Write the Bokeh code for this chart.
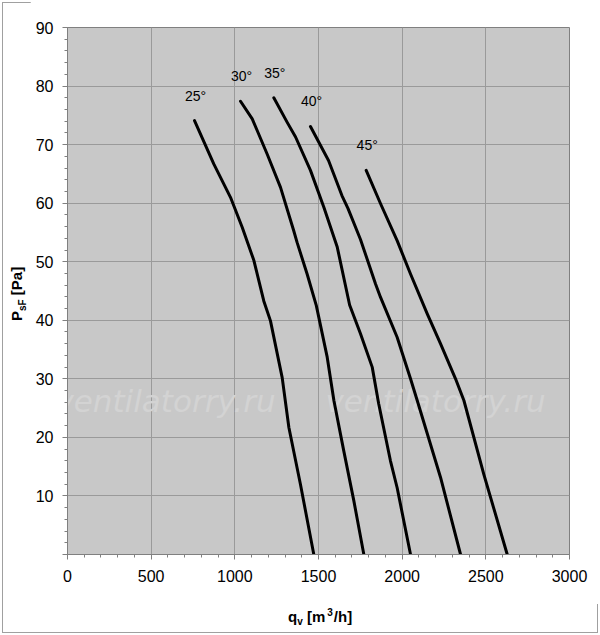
from bokeh.plotting import figure
from bokeh.models import Label, FixedTicker, Range1d, ColumnDataSource, Div
from bokeh.layouts import row, column
from bokeh.core.properties import value
from bokeh.embed import file_html
from bokeh.resources import INLINE

# ---- data ----
angles = ["25°", "30°", "35°", "40°", "45°"]
q25 = [759, 874, 974, 1044, 1114, 1173, 1213, 1283, 1323, 1392, 1472]
p25 = [74.1, 66.7, 61.0, 55.9, 50.2, 43.3, 39.9, 30.2, 21.7, 12.0, 0.0]
q30 = [1034, 1104, 1193, 1273, 1352, 1372, 1432, 1487, 1552, 1592, 1651, 1711, 1771]
p30 = [77.4, 74.4, 68.4, 62.7, 55.3, 53.3, 47.9, 42.5, 33.7, 26.3, 17.7, 9.2, 0.0]
q35 = [1233, 1313, 1363, 1452, 1532, 1612, 1686, 1751, 1821, 1860, 1930, 1970, 2050]
p35 = [78.0, 73.8, 71.3, 65.6, 59.3, 52.5, 42.6, 37.7, 32.0, 25.7, 16.0, 11.4, 0.0]
q40 = [1452, 1560, 1640, 1676, 1751, 1841, 1871, 1970, 2050, 2090, 2229, 2349]
p40 = [73.1, 67.3, 61.3, 59.1, 53.8, 46.2, 43.9, 37.1, 30.0, 26.3, 13.2, 0.0]
q45 = [1785, 1871, 1970, 2050, 2150, 2229, 2319, 2369, 2488, 2628]
p45 = [65.6, 59.9, 53.6, 47.9, 41.1, 36.0, 30.0, 26.3, 13.7, 0.0]
curves_q = [q25, q30, q35, q40, q45]
curves_p = [p25, p30, p35, p40, p45]

x_ticks = [0, 500, 1000, 1500, 2000, 2500, 3000]
y_ticks = [0, 10, 20, 30, 40, 50, 60, 70, 80, 90]
watermark = "ventilatorry.ru"

FONT = "Liberation Sans"

p = figure(width=570, height=604, output_backend="svg", toolbar_location=None,
           x_range=Range1d(0, 3000), y_range=Range1d(0, 90),
           min_border_left=37, min_border_right=31, min_border_top=27, min_border_bottom=50)
p.border_fill_color = "white"
p.background_fill_color = "#c8c8c8"
p.outline_line_color = "#808080"
p.outline_line_width = 1

for ax in (p.xaxis[0], p.yaxis[0]):
    ax.axis_line_color = "#808080"
    ax.major_tick_line_color = "#808080"
    ax.minor_tick_line_color = "#808080"
    ax.major_tick_in = 0
    ax.major_tick_out = 5
    ax.minor_tick_in = 0
    ax.minor_tick_out = 3
    ax.major_label_text_font = FONT
    ax.major_label_text_font_size = "16px"
    ax.major_label_text_color = "black"

p.xaxis[0].ticker = FixedTicker(ticks=x_ticks, minor_ticks=list(range(0, 3001, 100)))
p.yaxis[0].ticker = FixedTicker(ticks=y_ticks, minor_ticks=list(range(0, 91, 2)))
p.yaxis[0].major_label_overrides = {0: ""}
p.xaxis[0].major_label_standoff = 10
p.yaxis[0].major_label_standoff = 9

p.xgrid[0].ticker = FixedTicker(ticks=x_ticks)
p.ygrid[0].ticker = FixedTicker(ticks=y_ticks)
p.xgrid.grid_line_color = "#9a9a9a"
p.ygrid.grid_line_color = "#9a9a9a"

# watermark
for fx in (98, 368):
    p.add_layout(Label(x=fx, y=154, x_units="screen", y_units="screen", text=watermark,
                       text_font="DejaVu Sans", text_font_style="italic", text_font_size="31px",
                       text_color="#d3d3d3", text_align="center", text_baseline="middle",
                       level="underlay"))

# curves
for qs, ps in zip(curves_q, curves_p):
    p.line(qs, ps, line_color="black", line_width=3, line_join="round", line_cap="round")

# angle labels near the upper end of each curve
src = ColumnDataSource(dict(x=[c[0] for c in curves_q], y=[c[0] for c in curves_p], t=angles))
p.text(x="x", y="y", text="t", source=src, x_offset=1, y_offset=-25,
       text_font=value(FONT), text_font_size="14px", text_color="black",
       text_align="center", text_baseline="middle")

# axis titles (with sub/superscripts) as HTML text beside the figure
TSTYLE = "font-family:'Liberation Sans',Arial,sans-serif;font-weight:bold;font-size:15px;line-height:15px;white-space:nowrap;color:black;"
ytitle = Div(width=30, height=635, margin=0, text=(
    '<div style="position:relative;width:30px;height:635px;">'
    '<div style="position:absolute;left:9px;top:321px;transform:rotate(-90deg);transform-origin:left top;' + TSTYLE + '">'
    'P<span style="font-size:10px;position:relative;top:4px;">sF</span> [Pa]</div></div>'))
xtitle = Div(width=570, height=31, margin=0, text=(
    '<div style="position:relative;width:570px;height:31px;">'
    '<div style="position:absolute;left:258px;top:5px;' + TSTYLE + '">'
    'q<span style="font-size:10px;position:relative;top:3px;">v</span> [m'
    '<span style="font-size:10px;position:relative;top:-6px;margin-left:2px;">3</span>'
    '<span style="margin-left:1px;">/h]</span></div></div>'))

layout = row(ytitle, column(p, xtitle, spacing=0), spacing=0,
             styles={"outline": "1px solid #a0a0a0", "outline-offset": "-3px"})

open("out.html", "w").write(file_html(layout, INLINE))
